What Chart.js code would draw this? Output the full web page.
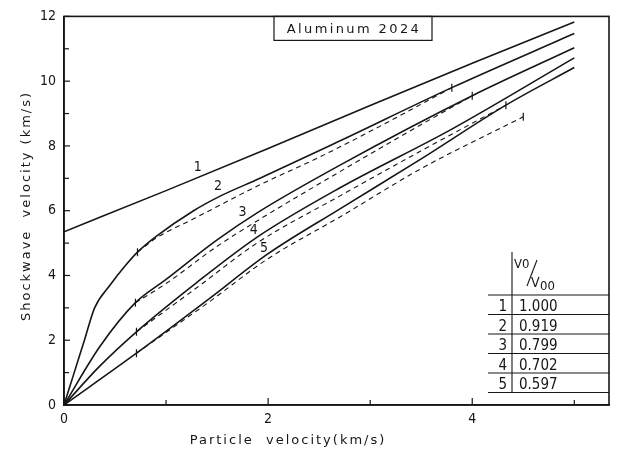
<!DOCTYPE html>
<html>
<head>
<meta charset="utf-8">
<script src="https://cdn.jsdelivr.net/npm/chart.js@4.4.1/dist/chart.umd.min.js"></script>
<style>
  html, body { margin: 0; padding: 0; background: #fff; }
</style>
</head>
<body>
<canvas id="myChart" width="619" height="456"></canvas>
<script>
// solid curves (particle velocity km/s -> shockwave velocity km/s)
const c1X = [0, 1, 2, 3, 4, 5];
const c1Y = [5.35, 6.62, 7.92, 9.25, 10.55, 11.83];
const c2X = [0, 0.1, 0.2, 0.3, 0.45, 0.6, 0.72, 0.9, 1.27, 1.53, 1.92, 2.7, 3.8, 5.0];
const c2Y = [0, 1.0, 2.0, 3.0, 3.7, 4.3, 4.72, 5.2, 6.0, 6.45, 7.0, 8.15, 9.8, 11.47];
const c3X = [0, 0.35, 0.7, 1.0, 1.5, 1.9, 2.7, 4.0, 5.0];
const c3Y = [0, 1.8, 3.16, 3.88, 5.1, 5.95, 7.4, 9.55, 11.03];
const c4X = [0, 0.35, 0.71, 1.3, 1.9, 2.7, 3.8, 5.0];
const c4Y = [0, 1.2, 2.26, 3.78, 5.2, 6.7, 8.52, 10.72];
const c5X = [0, 0.71, 1.43, 1.99, 2.7, 3.5, 4.33, 5.0];
const c5Y = [0, 1.6, 3.3, 4.65, 6.05, 7.6, 9.26, 10.42];

// dashed companion curves
const d2X = [0.72, 0.9, 1.27, 1.92, 2.5, 3.0, 3.8];
const d2Y = [4.72, 5.15, 5.75, 6.8, 7.65, 8.45, 9.8];
const d3X = [0.7, 1.0, 1.5, 1.9, 2.7, 3.3, 4.0];
const d3Y = [3.16, 3.75, 4.9, 5.7, 7.2, 8.3, 9.55];
const d4X = [0.71, 1.3, 1.9, 2.7, 3.5, 4.33];
const d4Y = [2.26, 3.62, 5.02, 6.45, 7.85, 9.26];
const d5X = [0.71, 1.43, 1.99, 2.7, 3.5, 4.5];
const d5Y = [1.6, 3.2, 4.5, 5.8, 7.3, 8.9];

// curve number labels (data coords)
const curveNames = ['1', '2', '3', '4', '5'];
const nameX = [1.31, 1.51, 1.75, 1.86, 1.96];
const nameY = [7.35, 6.76, 5.96, 5.40, 4.85];

// table
const tableIds = ['1', '2', '3', '4', '5'];
const tableValues = ['1.000', '0.919', '0.799', '0.702', '0.597'];

// axes
const xTickValues = [0, 1, 2, 3, 4, 5];
const xTickLabels = ['0', '', '2', '', '4', ''];
const yTickValues = [0, 1, 2, 3, 4, 5, 6, 7, 8, 9, 10, 11, 12];
const yTickLabels = ['0', '', '2', '', '4', '', '6', '', '8', '', '10', '', '12'];

const ink = '#161616';
const fam = "'DejaVu Sans Condensed', 'DejaVu Sans', sans-serif";

function pts(xs, ys) {
  return xs.map((x, i) => ({ x: x, y: ys[i] }));
}

function solid(xs, ys) {
  return {
    data: pts(xs, ys),
    showLine: true,
    borderColor: ink,
    borderWidth: 1.6,
    pointRadius: 0,
    cubicInterpolationMode: 'monotone'
  };
}

function dashed(xs, ys) {
  return {
    data: pts(xs, ys),
    showLine: true,
    borderColor: ink,
    borderWidth: 1.1,
    borderDash: [5, 4],
    cubicInterpolationMode: 'monotone',
    pointStyle: 'line',
    rotation: 90,
    pointBorderWidth: 1.2,
    pointBorderColor: ink,
    pointRadius: (c) => (c.dataIndex === 0 || c.dataIndex === xs.length - 1) ? 4 : 0
  };
}

const decor = {
  id: 'decor',
  afterDraw(chart) {
    const ctx = chart.ctx;
    const a = chart.chartArea;
    const xs = chart.scales.x, ys = chart.scales.y;
    ctx.save();
    ctx.strokeStyle = ink;
    ctx.fillStyle = ink;

    // frame
    ctx.lineWidth = 1.6;
    ctx.strokeRect(a.left, a.top, a.right - a.left, a.bottom - a.top);

    // inward tick marks
    ctx.lineWidth = 1.2;
    xTickValues.forEach((v, i) => {
      const px = xs.getPixelForValue(v);
      const len = xTickLabels[i] ? 7 : 5;
      ctx.beginPath(); ctx.moveTo(px, a.bottom); ctx.lineTo(px, a.bottom - len); ctx.stroke();
    });
    yTickValues.forEach((v, i) => {
      const py = ys.getPixelForValue(v);
      const len = yTickLabels[i] ? 6 : 5;
      ctx.beginPath(); ctx.moveTo(a.left, py); ctx.lineTo(a.left + len, py); ctx.stroke();
    });

    // title box
    ctx.lineWidth = 1.2;
    ctx.strokeRect(274, a.top, 158, 24);
    ctx.font = "13px 'DejaVu Sans', sans-serif";
    ctx.letterSpacing = '2.4px';
    ctx.textAlign = 'center';
    ctx.textBaseline = 'middle';
    ctx.fillText('Aluminum 2024', 354, a.top + 13);

    // axis titles
    ctx.letterSpacing = '2px';
    ctx.fillText('Particle  velocity(km/s)', 288, 441);
    ctx.save();
    ctx.translate(27, 206);
    ctx.rotate(-Math.PI / 2);
    ctx.fillText('Shockwave  velocity (km/s)', 0, 0);
    ctx.restore();
    ctx.letterSpacing = '0px';

    // curve numbers
    ctx.font = '14px ' + fam;
    curveNames.forEach((n, i) => {
      ctx.fillText(n, xs.getPixelForValue(nameX[i]), ys.getPixelForValue(nameY[i]));
    });

    // table
    ctx.lineWidth = 1.1;
    const rows = [295, 314.5, 334, 353.5, 373, 392.5];
    rows.forEach((y) => {
      ctx.beginPath(); ctx.moveTo(488, y); ctx.lineTo(a.right, y); ctx.stroke();
    });
    ctx.beginPath(); ctx.moveTo(512, 252); ctx.lineTo(512, 392.5); ctx.stroke();
    ctx.font = '15px ' + fam;
    ctx.textBaseline = 'alphabetic';
    tableIds.forEach((id, i) => {
      ctx.textAlign = 'right';
      ctx.fillText(id, 507, rows[i] + 16);
      ctx.textAlign = 'left';
      ctx.fillText(tableValues[i], 519, rows[i] + 16);
    });
    // header V0/V00
    ctx.textAlign = 'left';
    ctx.font = '13px ' + fam;
    ctx.fillText('V0', 514, 268);
    ctx.beginPath(); ctx.moveTo(527, 286); ctx.lineTo(537, 260); ctx.stroke();
    ctx.font = '14px ' + fam;
    ctx.fillText('V', 531, 287);
    ctx.font = '13px ' + fam;
    ctx.fillText('00', 540, 290);

    ctx.restore();
  }
};

const config = {
  type: 'scatter',
  data: {
    datasets: [
      solid(c1X, c1Y), solid(c2X, c2Y), solid(c3X, c3Y), solid(c4X, c4Y), solid(c5X, c5Y),
      dashed(d2X, d2Y), dashed(d3X, d3Y), dashed(d4X, d4Y), dashed(d5X, d5Y)
    ]
  },
  options: {
    responsive: false,
    animation: false,
    devicePixelRatio: 1,
    layout: { padding: { left: 0, right: 10, top: 16, bottom: 0 } },
    plugins: { legend: { display: false }, tooltip: { enabled: false }, title: { display: false } },
    scales: {
      x: {
        type: 'linear',
        min: 0,
        max: 5.34,
        afterBuildTicks: (s) => { s.ticks = xTickValues.map((v) => ({ value: v })); },
        afterFit: (s) => { s.height = 51; },
        ticks: {
          autoSkip: false,
          maxRotation: 0,
          padding: 6,
          color: ink,
          font: { family: fam, size: 14 },
          callback: (v) => xTickLabels[xTickValues.indexOf(v)]
        },
        grid: { drawOnChartArea: false, drawTicks: false },
        border: { color: ink, width: 1.6 }
      },
      y: {
        type: 'linear',
        min: 0,
        max: 12,
        afterBuildTicks: (s) => { s.ticks = yTickValues.map((v) => ({ value: v })); },
        afterFit: (s) => { s.width = 64; },
        ticks: {
          autoSkip: false,
          padding: 8,
          color: ink,
          font: { family: fam, size: 14 },
          callback: (v) => yTickLabels[yTickValues.indexOf(v)]
        },
        grid: { drawOnChartArea: false, drawTicks: false },
        border: { color: ink, width: 1.6 }
      }
    }
  },
  plugins: [decor]
};

const ctx = document.getElementById('myChart');
const myChart = new Chart(ctx, config);
</script>
</body>
</html>
